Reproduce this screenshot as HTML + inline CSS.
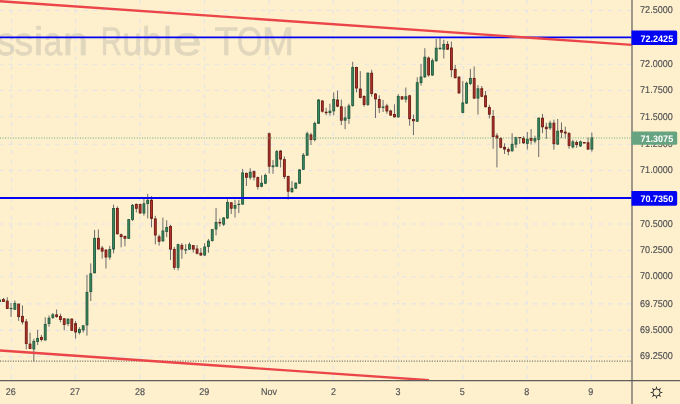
<!DOCTYPE html>
<html lang="en"><head><meta charset="utf-8"><title>USD/RUB TOM chart</title>
<style>
html,body{margin:0;padding:0;background:#fef0cd;}
body{width:680px;height:404px;overflow:hidden;}
svg{display:block;will-change:transform;}
text{font-family:"Liberation Sans",Arial,sans-serif;text-rendering:geometricPrecision;}
.ax{font-size:9.9px;fill:#4f4f52;stroke:#4f4f52;stroke-width:0.15px;}
.tx{font-size:9.8px;fill:#4f4f52;stroke:#4f4f52;stroke-width:0.15px;}
.lb{font-size:9.4px;fill:#fff;font-weight:bold;}
.wm{font-size:40px;fill:#949494;stroke:#949494;stroke-width:0.7px;opacity:0.265;}
.g rect{fill:#3a8a62;stroke:#23593c;stroke-width:0.9;}
.r rect{fill:#b8322c;stroke:#6a1a12;stroke-width:0.9;}
.w{stroke:#6b6b6b;stroke-width:1;}
</style></head><body>
<svg width="680" height="404" viewBox="0 0 680 404">
<defs><clipPath id="pane"><rect x="0" y="0" width="631.6" height="380.2"/></clipPath></defs>
<rect x="0" y="0" width="680" height="404" fill="#fef0cd"/>
<g clip-path="url(#pane)" stroke="#e2e3eb" stroke-width="1.1" stroke-dasharray="4 5.37" fill="none">
<g stroke-dashoffset="0.9">
<line x1="0" y1="10.50" x2="632" y2="10.50"/>
<line x1="0" y1="37.30" x2="632" y2="37.30"/>
<line x1="0" y1="64.20" x2="632" y2="64.20"/>
<line x1="0" y1="90.50" x2="632" y2="90.50"/>
<line x1="0" y1="116.80" x2="632" y2="116.80"/>
<line x1="0" y1="144.20" x2="632" y2="144.20"/>
<line x1="0" y1="170.50" x2="632" y2="170.50"/>
<line x1="0" y1="197.20" x2="632" y2="197.20"/>
<line x1="0" y1="224.00" x2="632" y2="224.00"/>
<line x1="0" y1="250.50" x2="632" y2="250.50"/>
<line x1="0" y1="276.70" x2="632" y2="276.70"/>
<line x1="0" y1="303.90" x2="632" y2="303.90"/>
<line x1="0" y1="330.35" x2="632" y2="330.35"/>
<line x1="0" y1="356.55" x2="632" y2="356.55"/>
</g><g stroke-dashoffset="-0.2">
<line x1="11.50" y1="0" x2="11.50" y2="381"/>
<line x1="75.50" y1="0" x2="75.50" y2="381"/>
<line x1="140.00" y1="0" x2="140.00" y2="381"/>
<line x1="204.50" y1="0" x2="204.50" y2="381"/>
<line x1="268.90" y1="0" x2="268.90" y2="381"/>
<line x1="333.20" y1="0" x2="333.20" y2="381"/>
<line x1="398.20" y1="0" x2="398.20" y2="381"/>
<line x1="463.00" y1="0" x2="463.00" y2="381"/>
<line x1="527.00" y1="0" x2="527.00" y2="381"/>
<line x1="591.50" y1="0" x2="591.50" y2="381"/>
</g></g>
<text class="wm" y="54.5"><tspan x="-3.53" textLength="18.95" lengthAdjust="spacingAndGlyphs">s</tspan><tspan x="14.27" textLength="18.95" lengthAdjust="spacingAndGlyphs">s</tspan><tspan x="33.83" textLength="9.53" lengthAdjust="spacingAndGlyphs">i</tspan><tspan x="43.42" textLength="18.68" lengthAdjust="spacingAndGlyphs">a</tspan><tspan x="62.66" textLength="25.43" lengthAdjust="spacingAndGlyphs">n</tspan> <tspan x="100.73" textLength="21.25" lengthAdjust="spacingAndGlyphs">R</tspan><tspan x="122.15" textLength="19.92" lengthAdjust="spacingAndGlyphs">u</tspan><tspan x="142.36" textLength="19.80" lengthAdjust="spacingAndGlyphs">b</tspan><tspan x="163.31" textLength="8.47" lengthAdjust="spacingAndGlyphs">l</tspan><tspan x="172.68" textLength="28.97" lengthAdjust="spacingAndGlyphs">e</tspan> <tspan x="214.52" textLength="23.49" lengthAdjust="spacingAndGlyphs">T</tspan><tspan x="236.85" textLength="25.61" lengthAdjust="spacingAndGlyphs">O</tspan><tspan x="261.99" textLength="32.03" lengthAdjust="spacingAndGlyphs">M</tspan></text>
<g clip-path="url(#pane)">
<path class="w" fill="none" d="M-0.33 299.6V301.9M3.47 297.9V301.9M7.27 297.3V308.9M11.06 303.0V317.0M14.86 300.5V309.8M18.65 303.6V320.9M22.45 305.4V324.4M26.25 319.0V349.4M30.04 332.6V349.0M33.84 338.7V361.5M37.63 329.8V345.0M41.43 334.8V341.5M45.23 317.3V340.5M49.02 315.5V326.8M52.82 313.0V319.0M56.61 309.5V317.8M60.41 313.7V322.3M64.21 318.0V330.3M68.00 318.7V326.2M71.80 318.4V330.8M75.59 321.0V338.5M79.39 327.2V334.5M83.19 325.0V332.5M86.98 274.8V335.7M90.78 263.4V301.0M94.57 229.9V273.3M98.37 229.5V249.5M102.17 245.9V258.7M105.96 249.0V268.5M109.76 245.9V259.8M113.55 204.6V253.4M117.35 206.3V234.3M121.15 233.5V247.3M124.94 235.5V246.3M128.74 219.0V238.8M132.53 204.0V221.0M136.33 203.5V212.4M140.13 203.5V214.0M143.92 198.8V215.7M147.72 193.9V218.4M151.51 196.2V227.4M155.31 215.8V244.4M159.11 234.6V245.6M162.90 217.6V241.8M166.70 220.3V237.2M170.49 224.8V260.0M174.29 247.0V269.8M178.09 243.8V270.4M181.88 243.0V258.8M185.68 244.2V254.1M189.47 242.4V250.0M193.27 245.0V252.5M197.07 245.0V254.5M200.86 248.0V256.0M204.66 243.2V256.0M208.45 239.0V252.7M212.25 229.0V241.7M216.05 208.0V235.4M219.84 218.5V226.5M223.64 217.0V226.0M227.43 199.2V219.0M231.23 202.0V214.0M235.03 199.8V217.6M238.82 199.8V213.1M242.62 168.9V204.6M246.41 172.5V186.0M250.21 168.3V179.7M254.01 170.7V180.4M257.80 176.6V189.5M261.60 175.3V187.3M265.39 173.5V184.2M269.19 132.5V173.5M272.99 160.1V173.8M276.78 150.0V166.7M280.58 150.0V167.5M284.37 156.5V179.0M288.17 175.6V199.5M291.97 181.1V192.5M295.76 182.4V189.0M299.56 169.2V184.0M303.35 153.0V170.0M307.15 131.6V156.0M310.95 132.8V145.0M314.74 121.6V141.4M318.54 99.2V124.0M322.33 100.1V112.6M326.13 107.8V115.3M329.93 103.7V115.6M333.72 92.4V115.3M337.52 90.7V107.2M341.31 99.6V125.1M345.11 106.7V129.2M348.91 103.7V123.8M352.70 61.8V106.7M356.50 66.7V92.4M360.29 71.1V98.3M364.09 95.3V106.7M367.89 72.4V106.0M371.68 69.8V96.6M375.48 93.0V118.0M379.27 95.3V113.0M383.07 99.9V112.0M386.87 103.8V113.8M390.66 109.7V116.0M394.46 104.3V117.7M398.25 94.2V117.7M402.05 96.0V99.8M405.85 87.5V102.5M409.64 94.8V125.7M413.44 114.5V135.2M417.23 77.4V122.1M421.03 63.9V85.6M424.83 48.2V78.0M428.62 56.4V76.7M432.42 58.5V76.0M436.21 38.9V61.7M440.01 38.0V49.6M443.81 39.8V58.5M447.60 41.1V50.0M451.40 41.6V77.2M455.19 64.8V78.5M458.99 76.0V93.8M462.79 80.9V113.2M466.58 81.6V104.0M470.38 68.9V85.2M474.17 66.5V99.0M477.97 85.0V114.6M481.77 86.0V97.2M485.56 91.0V107.5M489.36 104.8V118.4M493.15 110.0V148.7M496.95 133.2V167.4M500.75 137.2V148.2M504.54 143.3V154.0M508.34 147.4V155.3M512.13 133.2V151.7M515.93 136.8V147.8M519.73 137.0V143.9M523.52 136.2V143.9M527.32 132.1V149.6M531.11 129.1V144.6M534.91 135.7V143.3M538.71 117.4V157.0M542.50 113.9V133.2M546.30 122.8V138.9M550.09 120.7V130.0M553.89 119.6V149.6M557.69 119.0V145.0M561.48 122.5V138.0M565.28 126.7V138.5M569.07 132.0V148.7M572.87 139.8V148.5M576.67 140.5V147.8M580.46 140.5V147.0M584.26 142.1V143.5M588.05 137.4V150.0M591.85 132.6V151.7"/>
<g class="g"><rect x="-1.28" y="300.1" width="1.9" height="1.4"/><rect x="10.11" y="308.4" width="1.9" height="0.3"/><rect x="13.91" y="303.4" width="1.9" height="5.9"/><rect x="32.89" y="341.4" width="1.9" height="7.5"/><rect x="36.68" y="338.4" width="1.9" height="3.1"/><rect x="44.28" y="324.4" width="1.9" height="15.6"/><rect x="48.07" y="318.2" width="1.9" height="5.3"/><rect x="51.87" y="314.8" width="1.9" height="2.6"/><rect x="67.05" y="319.1" width="1.9" height="4.4"/><rect x="78.44" y="329.4" width="1.9" height="3.1"/><rect x="82.24" y="325.8" width="1.9" height="4.1"/><rect x="86.03" y="292.4" width="1.9" height="32.5"/><rect x="89.83" y="273.8" width="1.9" height="17.8"/><rect x="93.62" y="238.3" width="1.9" height="34.5"/><rect x="108.81" y="249.5" width="1.9" height="7.5"/><rect x="112.60" y="208.5" width="1.9" height="40.5"/><rect x="127.79" y="219.6" width="1.9" height="18.7"/><rect x="131.58" y="205.3" width="1.9" height="14.2"/><rect x="142.97" y="203.8" width="1.9" height="9.2"/><rect x="146.77" y="200.2" width="1.9" height="3.3"/><rect x="161.95" y="231.0" width="1.9" height="9.8"/><rect x="165.75" y="227.5" width="1.9" height="3.9"/><rect x="177.14" y="244.6" width="1.9" height="22.7"/><rect x="184.73" y="249.6" width="1.9" height="0.4"/><rect x="188.52" y="244.6" width="1.9" height="4.5"/><rect x="203.71" y="247.0" width="1.9" height="8.0"/><rect x="207.50" y="241.1" width="1.9" height="5.4"/><rect x="211.30" y="229.6" width="1.9" height="10.9"/><rect x="215.10" y="222.4" width="1.9" height="6.6"/><rect x="222.69" y="218.0" width="1.9" height="6.2"/><rect x="226.48" y="202.5" width="1.9" height="15.5"/><rect x="234.08" y="205.5" width="1.9" height="2.7"/><rect x="237.87" y="204.3" width="1.9" height="0.3"/><rect x="241.67" y="172.9" width="1.9" height="31.2"/><rect x="249.26" y="172.2" width="1.9" height="5.1"/><rect x="260.65" y="183.2" width="1.9" height="3.1"/><rect x="264.44" y="175.4" width="1.9" height="7.8"/><rect x="272.04" y="165.9" width="1.9" height="0.8"/><rect x="275.83" y="151.6" width="1.9" height="14.6"/><rect x="291.02" y="188.4" width="1.9" height="3.4"/><rect x="294.81" y="183.2" width="1.9" height="4.9"/><rect x="298.61" y="169.9" width="1.9" height="13.3"/><rect x="302.40" y="155.2" width="1.9" height="14.1"/><rect x="306.20" y="133.8" width="1.9" height="21.4"/><rect x="313.79" y="123.5" width="1.9" height="16.1"/><rect x="317.59" y="100.0" width="1.9" height="23.3"/><rect x="328.98" y="111.2" width="1.9" height="1.4"/><rect x="332.77" y="99.4" width="1.9" height="11.5"/><rect x="344.16" y="117.9" width="1.9" height="2.3"/><rect x="347.96" y="106.0" width="1.9" height="12.4"/><rect x="351.75" y="67.5" width="1.9" height="38.0"/><rect x="366.94" y="73.2" width="1.9" height="31.2"/><rect x="382.12" y="107.0" width="1.9" height="0.4"/><rect x="397.30" y="96.4" width="1.9" height="20.5"/><rect x="404.90" y="96.7" width="1.9" height="2.4"/><rect x="416.28" y="82.7" width="1.9" height="38.5"/><rect x="420.08" y="77.0" width="1.9" height="5.6"/><rect x="423.88" y="57.2" width="1.9" height="19.6"/><rect x="431.47" y="60.8" width="1.9" height="14.2"/><rect x="435.26" y="48.2" width="1.9" height="12.5"/><rect x="439.06" y="48.2" width="1.9" height="0.6"/><rect x="442.86" y="44.4" width="1.9" height="4.8"/><rect x="461.84" y="102.9" width="1.9" height="9.5"/><rect x="465.63" y="83.2" width="1.9" height="19.9"/><rect x="469.43" y="78.4" width="1.9" height="5.1"/><rect x="477.02" y="88.8" width="1.9" height="9.3"/><rect x="511.18" y="144.3" width="1.9" height="6.5"/><rect x="514.98" y="137.5" width="1.9" height="6.6"/><rect x="526.37" y="139.3" width="1.9" height="4.1"/><rect x="533.96" y="138.4" width="1.9" height="2.6"/><rect x="537.76" y="118.2" width="1.9" height="21.1"/><rect x="549.14" y="123.2" width="1.9" height="4.6"/><rect x="556.74" y="131.2" width="1.9" height="12.9"/><rect x="571.92" y="141.9" width="1.9" height="5.0"/><rect x="579.51" y="141.9" width="1.9" height="4.0"/><rect x="590.90" y="137.8" width="1.9" height="11.3"/></g>
<g class="r"><rect x="2.52" y="299.6" width="1.9" height="1.8"/><rect x="6.32" y="301.1" width="1.9" height="7.4"/><rect x="17.70" y="304.1" width="1.9" height="12.5"/><rect x="21.50" y="316.4" width="1.9" height="5.4"/><rect x="25.30" y="321.8" width="1.9" height="21.7"/><rect x="29.09" y="344.1" width="1.9" height="4.4"/><rect x="40.48" y="337.4" width="1.9" height="2.1"/><rect x="55.66" y="314.9" width="1.9" height="1.6"/><rect x="59.46" y="316.4" width="1.9" height="3.1"/><rect x="63.26" y="318.8" width="1.9" height="5.7"/><rect x="70.85" y="319.1" width="1.9" height="11.2"/><rect x="74.64" y="323.6" width="1.9" height="8.4"/><rect x="97.42" y="238.3" width="1.9" height="10.7"/><rect x="101.22" y="248.1" width="1.9" height="3.0"/><rect x="105.01" y="250.2" width="1.9" height="6.8"/><rect x="116.40" y="208.5" width="1.9" height="25.3"/><rect x="120.20" y="234.8" width="1.9" height="1.8"/><rect x="123.99" y="236.5" width="1.9" height="1.8"/><rect x="135.38" y="204.4" width="1.9" height="3.9"/><rect x="139.18" y="204.6" width="1.9" height="8.3"/><rect x="150.56" y="200.2" width="1.9" height="18.2"/><rect x="154.36" y="218.9" width="1.9" height="16.1"/><rect x="158.16" y="236.8" width="1.9" height="4.5"/><rect x="169.54" y="226.4" width="1.9" height="22.7"/><rect x="173.34" y="249.4" width="1.9" height="17.9"/><rect x="180.93" y="245.4" width="1.9" height="3.7"/><rect x="192.32" y="245.6" width="1.9" height="3.5"/><rect x="196.12" y="249.0" width="1.9" height="4.2"/><rect x="199.91" y="253.2" width="1.9" height="1.8"/><rect x="218.89" y="222.4" width="1.9" height="0.6"/><rect x="230.28" y="202.8" width="1.9" height="5.4"/><rect x="245.46" y="173.4" width="1.9" height="3.9"/><rect x="253.06" y="171.6" width="1.9" height="5.4"/><rect x="256.85" y="177.6" width="1.9" height="8.9"/><rect x="268.24" y="133.8" width="1.9" height="32.4"/><rect x="279.63" y="151.1" width="1.9" height="8.0"/><rect x="283.42" y="159.6" width="1.9" height="16.9"/><rect x="287.22" y="176.5" width="1.9" height="14.7"/><rect x="310.00" y="135.0" width="1.9" height="4.5"/><rect x="321.38" y="101.0" width="1.9" height="10.2"/><rect x="325.18" y="112.2" width="1.9" height="0.5"/><rect x="336.57" y="100.0" width="1.9" height="6.2"/><rect x="340.36" y="106.8" width="1.9" height="13.4"/><rect x="355.55" y="67.5" width="1.9" height="20.5"/><rect x="359.34" y="89.0" width="1.9" height="8.4"/><rect x="363.14" y="96.5" width="1.9" height="8.0"/><rect x="370.73" y="73.2" width="1.9" height="20.3"/><rect x="374.53" y="94.0" width="1.9" height="4.9"/><rect x="378.32" y="99.5" width="1.9" height="7.9"/><rect x="385.92" y="106.0" width="1.9" height="5.0"/><rect x="389.71" y="111.0" width="1.9" height="4.1"/><rect x="393.51" y="114.5" width="1.9" height="2.3"/><rect x="401.10" y="96.8" width="1.9" height="2.2"/><rect x="408.69" y="95.8" width="1.9" height="22.9"/><rect x="412.49" y="119.5" width="1.9" height="1.3"/><rect x="427.67" y="58.1" width="1.9" height="16.8"/><rect x="446.65" y="44.4" width="1.9" height="4.8"/><rect x="450.45" y="48.0" width="1.9" height="21.7"/><rect x="454.24" y="69.4" width="1.9" height="8.3"/><rect x="458.04" y="77.2" width="1.9" height="15.7"/><rect x="473.22" y="78.4" width="1.9" height="19.7"/><rect x="480.82" y="88.7" width="1.9" height="7.6"/><rect x="484.61" y="95.8" width="1.9" height="10.9"/><rect x="488.41" y="107.5" width="1.9" height="6.7"/><rect x="492.20" y="116.5" width="1.9" height="20.1"/><rect x="496.00" y="135.9" width="1.9" height="2.1"/><rect x="499.80" y="138.4" width="1.9" height="8.9"/><rect x="503.59" y="147.3" width="1.9" height="1.8"/><rect x="507.39" y="149.6" width="1.9" height="1.6"/><rect x="518.78" y="137.5" width="1.9" height="0.3"/><rect x="522.57" y="138.4" width="1.9" height="4.4"/><rect x="530.16" y="138.4" width="1.9" height="1.8"/><rect x="541.55" y="118.2" width="1.9" height="8.6"/><rect x="545.35" y="127.2" width="1.9" height="1.5"/><rect x="552.94" y="123.2" width="1.9" height="20.5"/><rect x="560.53" y="130.4" width="1.9" height="1.7"/><rect x="564.33" y="132.1" width="1.9" height="0.9"/><rect x="568.12" y="133.6" width="1.9" height="11.9"/><rect x="575.72" y="142.5" width="1.9" height="2.1"/><rect x="583.31" y="142.5" width="1.9" height="0.5"/><rect x="587.10" y="142.8" width="1.9" height="6.3"/></g>
</g>
<line x1="0" y1="361" x2="632.0" y2="361" stroke="#77746c" stroke-width="1.25" stroke-dasharray="1.1 1.47"/>
<line x1="0" y1="138" x2="632.0" y2="138" stroke="#66a584" stroke-width="1" stroke-dasharray="1 1.58"/>
<g clip-path="url(#pane)" fill="none">
<line x1="0" y1="37.4" x2="632" y2="37.4" stroke="#0303f4" stroke-width="1.8"/>
<line x1="0" y1="198.0" x2="632" y2="198.0" stroke="#0303f4" stroke-width="2"/>
<line x1="-10" y1="0.51" x2="640" y2="45.36" stroke="#eb4549" stroke-width="2.35"/>
<line x1="-10" y1="349.81" x2="429" y2="380.19" stroke="#eb4549" stroke-width="2.35"/>
</g>
<line x1="632.0" y1="0" x2="632.0" y2="404" stroke="#595856" stroke-width="1.15"/>
<line x1="0" y1="380.6" x2="680" y2="380.6" stroke="#5f5e5b" stroke-width="1.1"/>
<text class="ax" x="640.1" y="13.25" textLength="32.7" lengthAdjust="spacingAndGlyphs">72.5000</text>
<text class="ax" x="640.1" y="66.95" textLength="32.7" lengthAdjust="spacingAndGlyphs">72.0000</text>
<text class="ax" x="640.1" y="93.25" textLength="32.7" lengthAdjust="spacingAndGlyphs">71.7500</text>
<text class="ax" x="640.1" y="119.55" textLength="32.7" lengthAdjust="spacingAndGlyphs">71.5000</text>
<text class="ax" x="640.1" y="146.95" textLength="32.7" lengthAdjust="spacingAndGlyphs">71.2500</text>
<text class="ax" x="640.1" y="173.25" textLength="32.7" lengthAdjust="spacingAndGlyphs">71.0000</text>
<text class="ax" x="640.1" y="226.75" textLength="32.7" lengthAdjust="spacingAndGlyphs">70.5000</text>
<text class="ax" x="640.1" y="253.25" textLength="32.7" lengthAdjust="spacingAndGlyphs">70.2500</text>
<text class="ax" x="640.1" y="279.45" textLength="32.7" lengthAdjust="spacingAndGlyphs">70.0000</text>
<text class="ax" x="640.1" y="306.65" textLength="32.7" lengthAdjust="spacingAndGlyphs">69.7500</text>
<text class="ax" x="640.1" y="333.10" textLength="32.7" lengthAdjust="spacingAndGlyphs">69.5000</text>
<text class="ax" x="640.1" y="359.30" textLength="32.7" lengthAdjust="spacingAndGlyphs">69.2500</text>
<path d="M631.5 30.40H675.6Q677.2 30.40 677.2 32.00V43.40Q677.2 45.00 675.6 45.00H631.5Z" fill="#0303f4"/>
<text class="lb" x="640.4" y="41.70" textLength="32.8" lengthAdjust="spacingAndGlyphs">72.2425</text>
<path d="M631.5 191.05H675.6Q677.2 191.05 677.2 192.65V204.05Q677.2 205.65 675.6 205.65H631.5Z" fill="#0303f4"/>
<text class="lb" x="640.4" y="202.35" textLength="32.8" lengthAdjust="spacingAndGlyphs">70.7350</text>
<path d="M631.5 131.40H675.6Q677.2 131.40 677.2 133.00V143.20Q677.2 144.80 675.6 144.80H631.5Z" fill="#66a380"/>
<text class="lb" x="640.4" y="141.70" textLength="32.8" lengthAdjust="spacingAndGlyphs">71.3075</text>
<text class="tx" x="5.75" y="394.75" textLength="10.01" lengthAdjust="spacingAndGlyphs">26</text>
<text class="tx" x="70.10" y="394.75" textLength="10.01" lengthAdjust="spacingAndGlyphs">27</text>
<text class="tx" x="134.90" y="394.75" textLength="10.01" lengthAdjust="spacingAndGlyphs">28</text>
<text class="tx" x="199.25" y="394.75" textLength="10.01" lengthAdjust="spacingAndGlyphs">29</text>
<text class="tx" x="261.00" y="394.75" textLength="16.00" lengthAdjust="spacingAndGlyphs">Nov</text>
<text class="tx" x="330.90" y="394.75" textLength="5.00" lengthAdjust="spacingAndGlyphs">2</text>
<text class="tx" x="395.50" y="394.75" textLength="5.00" lengthAdjust="spacingAndGlyphs">3</text>
<text class="tx" x="459.75" y="394.75" textLength="5.00" lengthAdjust="spacingAndGlyphs">5</text>
<text class="tx" x="524.25" y="394.75" textLength="5.00" lengthAdjust="spacingAndGlyphs">8</text>
<text class="tx" x="588.25" y="394.75" textLength="5.00" lengthAdjust="spacingAndGlyphs">9</text>
<g transform="translate(656.5 392.5)">
<circle r="3.6" stroke="#26262a" stroke-width="0.95" fill="none"/>
<path d="M3.90 0.85L3.90 -0.85L6.60 0.00ZM2.16 3.36L3.36 2.16L4.67 4.67ZM-0.85 3.90L0.85 3.90L0.00 6.60ZM-3.36 2.16L-2.16 3.36L-4.67 4.67ZM-3.90 -0.85L-3.90 0.85L-6.60 0.00ZM-2.16 -3.36L-3.36 -2.16L-4.67 -4.67ZM0.85 -3.90L-0.85 -3.90L-0.00 -6.60ZM3.36 -2.16L2.16 -3.36L4.67 -4.67Z" fill="#26262a"/>
</g>
</svg></body></html>
